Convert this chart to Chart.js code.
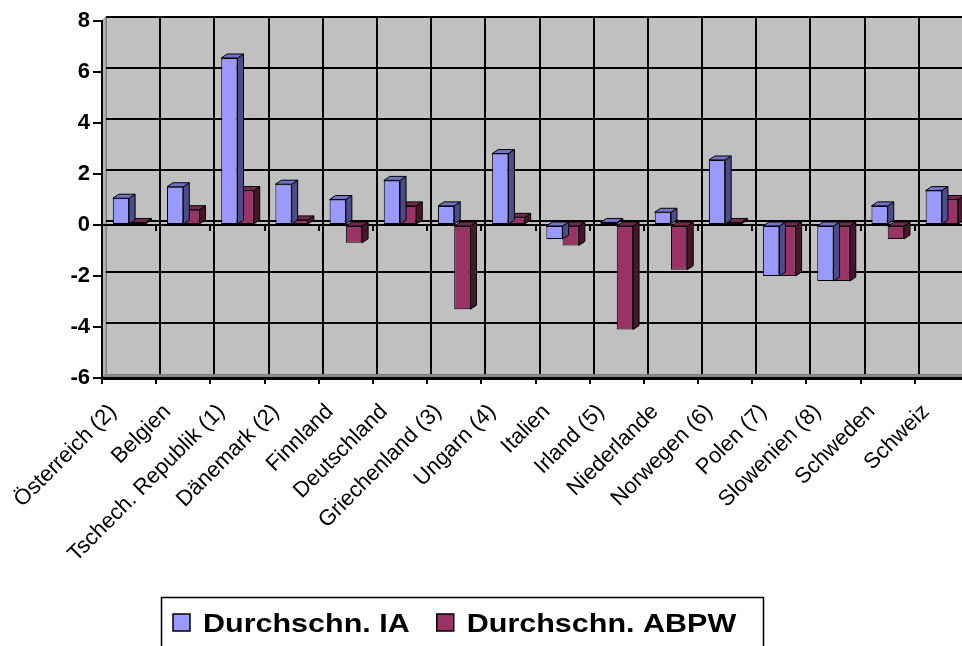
<!DOCTYPE html>
<html>
<head>
<meta charset="utf-8">
<script src="https://cdn.jsdelivr.net/npm/chart.js@4.4.1/dist/chart.umd.min.js"></script>
<style>
    html, body { margin: 0; padding: 0; background: #fff; overflow: hidden; }
    #wrap { width: 962px; height: 646px; overflow: hidden; position: relative; }
    canvas { display: block; }
</style>
</head>
<body>
<div id="wrap"><canvas id="chart" width="970" height="646"></canvas></div>
<script>
const countries = ['Österreich (2)', 'Belgien', 'Tschech. Republik (1)', 'Dänemark (2)', 'Finnland',
    'Deutschland', 'Griechenland (3)', 'Ungarn (4)', 'Italien', 'Irland (5)', 'Niederlande',
    'Norwegen (6)', 'Polen (7)', 'Slowenien (8)', 'Schweden', 'Schweiz'];
const avgIA   = [1.05, 1.5, 6.55, 1.6, 1.0, 1.75, 0.75, 2.8, -0.55, 0.1, 0.5, 2.55, -2.0, -2.2, 0.75, 1.35];
const avgABPW = [0.1, 0.6, 1.35, 0.2, -0.7, 0.75, -3.3, 0.3, -0.8, -4.1, -1.75, 0.1, -2.0, -2.2, -0.55, 1.0];
const seriesNames = ['Durchschn. IA', 'Durchschn. ABPW'];
const yMin = -6, yMax = 8, yStep = 2;

const FONT = '"Liberation Sans", Arial, sans-serif';
const DX = 4, DY = 4;       // depth of walls
const BDX = 6, BDY = 4;     // depth of bars
const sideColors = ['#4c4c88', '#46162d'];
const topColors = ['#7373c8', '#772850'];

function poly(ctx, pts, fill) {
    ctx.beginPath();
    ctx.moveTo(pts[0][0], pts[0][1]);
    for (let i = 1; i < pts.length; i++) ctx.lineTo(pts[i][0], pts[i][1]);
    ctx.closePath();
    if (fill) { ctx.fillStyle = fill; ctx.fill(); }
    ctx.stroke();
}

const wallPlugin = {
    id: 'wall',
    beforeDraw(chart) {
        const { ctx, chartArea: a, scales } = chart;
        const y = scales.y;
        const w = (a.right - a.left) / countries.length;
        ctx.save();
        ctx.strokeStyle = '#808080';
        ctx.lineWidth = 1;
        poly(ctx, [[a.left, a.top], [a.left + DX, a.top - DY], [a.left + DX, a.bottom - DY], [a.left, a.bottom]], '#b4b4b4');
        poly(ctx, [[a.left, a.bottom], [a.left + DX, a.bottom - DY], [a.right + DX, a.bottom - DY], [a.right, a.bottom]], '#8a8a8a');
        ctx.fillStyle = '#c0c0c0';
        ctx.fillRect(a.left + DX, a.top - DY, a.right - a.left, a.bottom - a.top);
        ctx.strokeRect(a.left + DX + 0.5, a.top - DY + 0.5, a.right - a.left, a.bottom - a.top);
        ctx.strokeStyle = '#000';
        ctx.lineWidth = 2;
        ctx.beginPath();
        y.ticks.forEach(t => {
            if (t.value === yMin) return;
            const py = Math.round(y.getPixelForValue(t.value)) - DY;
            ctx.moveTo(a.left + DX, py);
            ctx.lineTo(a.right + DX, py);
        });
        for (let i = 1; i <= countries.length; i++) {
            const px = Math.round(a.left + i * w) + DX;
            ctx.moveTo(px, a.top - DY);
            ctx.lineTo(px, a.bottom - DY);
        }
        ctx.stroke();
        ctx.restore();
    },
    beforeDatasetsDraw(chart) {
        const { ctx, chartArea: a, scales } = chart;
        const y0 = Math.round(scales.y.getPixelForValue(0));
        const w = (a.right - a.left) / countries.length;
        ctx.save();
        ctx.strokeStyle = '#000';
        ctx.lineWidth = 2;
        ctx.beginPath();
        ctx.moveTo(a.left, y0);
        ctx.lineTo(a.right, y0);
        for (let i = 0; i <= countries.length; i++) {
            const px = Math.round(a.left + i * w);
            ctx.moveTo(px, y0);
            ctx.lineTo(px, y0 + 6);
        }
        ctx.stroke();
        ctx.restore();
    },
    afterDatasetDraw(chart, args) {
        const ctx = chart.ctx;
        const i = args.index;
        ctx.save();
        ctx.strokeStyle = '#000';
        ctx.lineWidth = 1;
        args.meta.data.forEach(bar => {
            const p = bar.getProps(['x', 'y', 'base', 'width'], true);
            const l = p.x - p.width / 2, r = p.x + p.width / 2;
            const top = Math.min(p.y, p.base), bot = Math.max(p.y, p.base);
            poly(ctx, [[r, top], [r + BDX, top - BDY], [r + BDX, bot - BDY], [r, bot]], sideColors[i]);
            poly(ctx, [[l, top], [l + BDX, top - BDY], [r + BDX, top - BDY], [r, top]], topColors[i]);
        });
        ctx.restore();
    }
};

const legendPlugin = {
    id: 'boxLegend',
    afterDraw(chart) {
        const ctx = chart.ctx;
        const sx = 1.22;
        ctx.save();
        ctx.strokeStyle = '#000';
        ctx.lineWidth = 1.5;
        ctx.strokeRect(161.5, 597.5, 602, 60);
        ctx.font = 'bold 25px ' + FONT;
        ctx.textBaseline = 'alphabetic';
        let x = 173;
        chart.data.datasets.forEach(ds => {
            ctx.fillStyle = ds.backgroundColor;
            ctx.fillRect(x, 614, 17, 17);
            ctx.strokeRect(x, 614, 17, 17);
            x += 30;
            ctx.save();
            ctx.translate(x, 632);
            ctx.scale(sx, 1);
            ctx.fillStyle = '#000';
            ctx.fillText(ds.label, 0, 0);
            ctx.restore();
            x += ctx.measureText(ds.label).width * sx + 27;
        });
        ctx.restore();
    }
};

new Chart(document.getElementById('chart'), {
    type: 'bar',
    data: {
        labels: countries,
        datasets: [
            { label: seriesNames[0], data: avgIA, backgroundColor: '#9999ff' },
            { label: seriesNames[1], data: avgABPW, backgroundColor: '#993366' }
        ]
    },
    options: {
        responsive: false,
        animation: false,
        layout: { padding: { top: 21, right: 1, bottom: 68, left: 0 } },
        datasets: {
            bar: { categoryPercentage: 0.6, barPercentage: 1.0, borderWidth: 1, borderColor: '#000', borderSkipped: false }
        },
        plugins: {
            legend: { display: false },
            tooltip: { enabled: false }
        },
        scales: {
            x: {
                grid: { offset: true, drawOnChartArea: false, color: '#000', lineWidth: 2, tickLength: 6 },
                border: { color: '#000', width: 3 },
                ticks: {
                    autoSkip: false, minRotation: 45, maxRotation: 45,
                    labelOffset: -16, padding: 15,
                    color: '#000', font: { family: FONT, size: 22 }
                },
                afterFit(s) { s.height = 200; s.paddingLeft = 0; s.paddingRight = 0; }
            },
            y: {
                min: yMin, max: yMax,
                ticks: { stepSize: yStep, padding: 3, color: '#000', font: { family: FONT, size: 22, weight: 'bold' } },
                grid: { drawOnChartArea: false, color: '#000', lineWidth: 2, tickLength: 9 },
                border: { color: '#000', width: 2 },
                afterFit(s) { s.width = 102; }
            }
        }
    },
    plugins: [wallPlugin, legendPlugin]
});
</script>
</body>
</html>
